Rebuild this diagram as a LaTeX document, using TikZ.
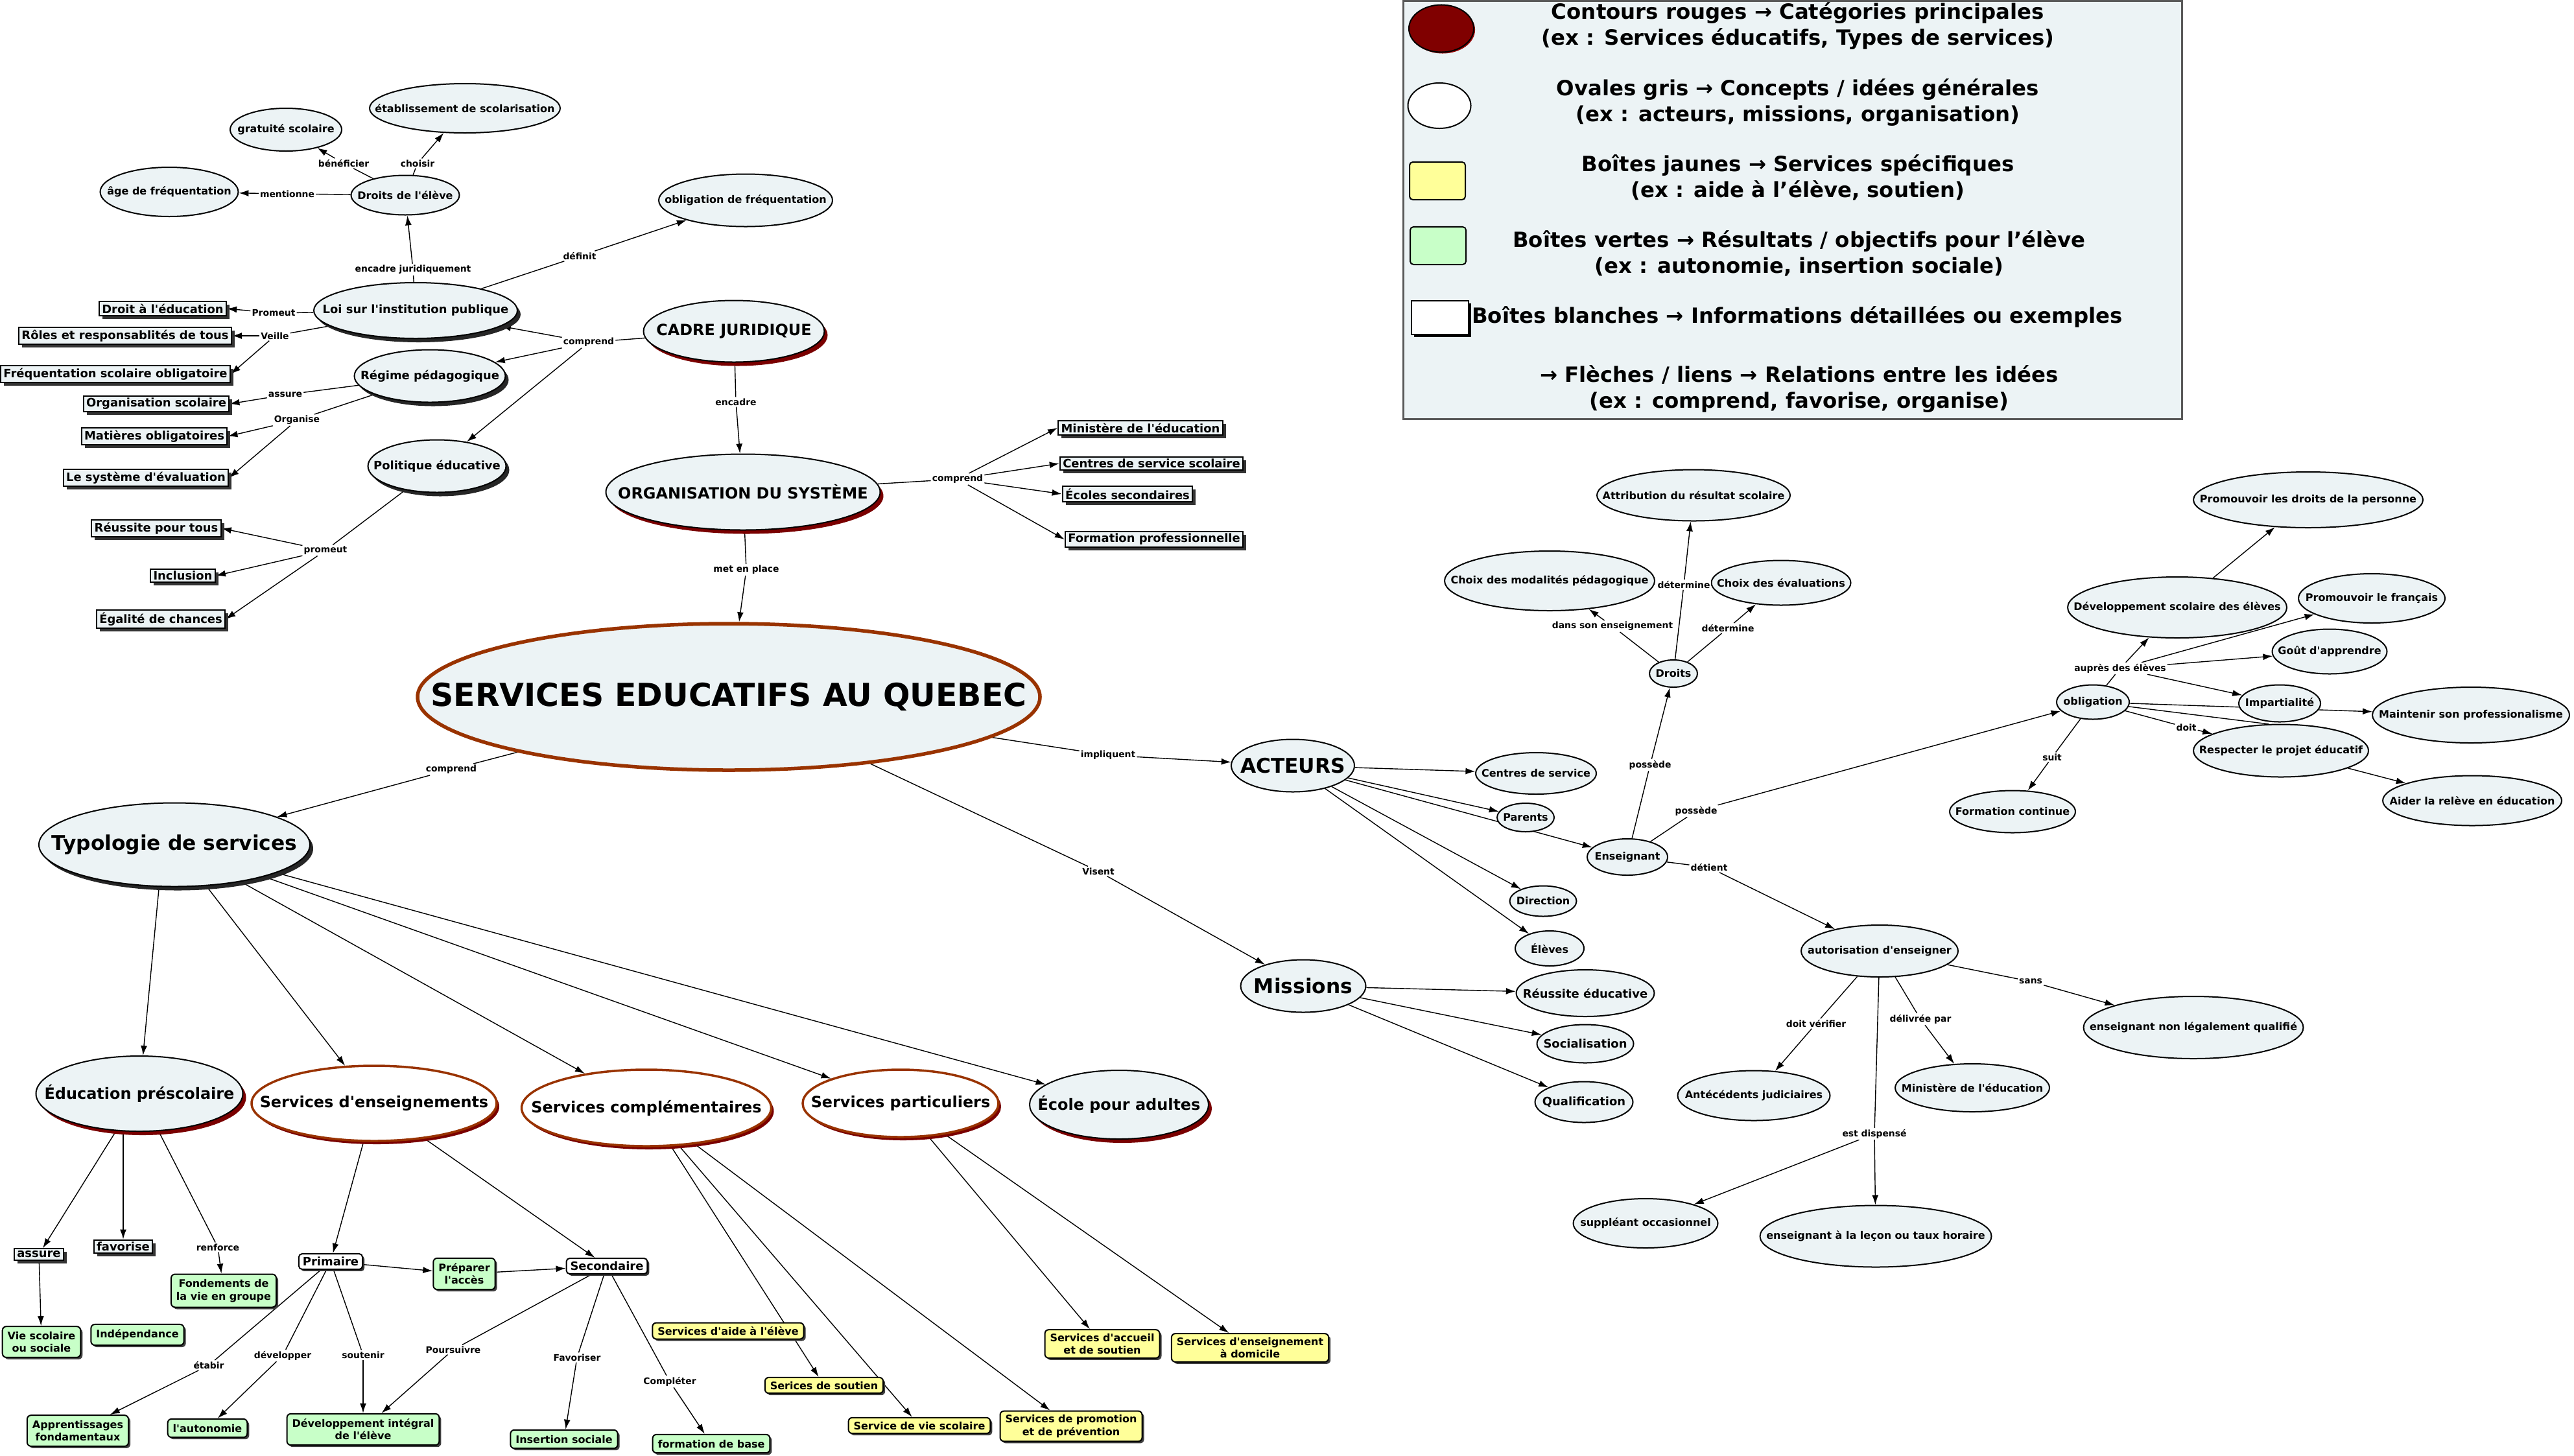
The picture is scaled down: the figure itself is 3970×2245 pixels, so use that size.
\documentclass[tikz,border=0pt]{standalone}
\usepackage{fontspec}
\setmainfont{DejaVu Sans}
\newfontfamily\dvsans{DejaVu Sans}
\usetikzlibrary{shapes.geometric,arrows.meta,shadows}
\pgfdeclarelayer{bg}
\pgfsetlayers{bg,main}
\definecolor{ovfill}{HTML}{ECF3F5}
\definecolor{brn}{HTML}{993300}
\definecolor{shred}{HTML}{7A0000}
\definecolor{grn}{HTML}{C8FFC8}
\definecolor{yel}{HTML}{FFFF99}
\definecolor{lgred}{HTML}{800000}
\newcommand\ELL[7]{%
  \node[#5, minimum width=#3*0.01cm, minimum height=#4*0.01cm] (#1) at (#2) {};
  \node[#6, align=center, inner sep=0pt] at (#1.center) {#7};}
\tikzset{
  f49/.style={font=\dvsans\fontsize{13.9}{16}\selectfont\bfseries},
  f32/.style={font=\dvsans\fontsize{8.9}{11}\selectfont\bfseries},
  f24/.style={font=\dvsans\fontsize{6.8}{8}\selectfont\bfseries},
  f18/.style={font=\dvsans\fontsize{5.1}{6.2}\selectfont\bfseries},
  f16/.style={font=\dvsans\fontsize{4.55}{5.5}\selectfont\bfseries},
  f14/.style={font=\dvsans\fontsize{3.95}{4.8}\selectfont\bfseries},
  fleg/.style={font=\dvsans\fontsize{9.2}{11.4}\selectfont\bfseries},
  ov/.style={ellipse, draw=black, line width=0.02cm, fill=ovfill, inner sep=0pt},
  ovk/.style={ov, drop shadow={shadow xshift=0.05cm, shadow yshift=-0.06cm, fill=black!85, opacity=1}},
  ovr/.style={ov, drop shadow={shadow xshift=0.05cm, shadow yshift=-0.06cm, fill=shred, opacity=1}},
  cat/.style={ellipse, draw=brn, line width=0.035cm, fill=white, inner sep=0pt, drop shadow={shadow xshift=0.04cm, shadow yshift=-0.05cm, fill=shred, opacity=1}},
  titleov/.style={ellipse, draw=brn, line width=0.055cm, fill=ovfill, inner sep=0pt},
  wbox/.style={rectangle, draw=black, line width=0.02cm, fill=ovfill, inner xsep=0.045cm, inner ysep=0.035cm, f18, drop shadow={shadow xshift=0.05cm, shadow yshift=-0.05cm, fill=black!80, opacity=1}},
  rbox/.style={rectangle, rounded corners=0.05cm, draw=black, line width=0.02cm, fill=white, inner xsep=0.06cm, inner ysep=0.05cm, f18, drop shadow={shadow xshift=0.03cm, shadow yshift=-0.03cm, fill=black!80, opacity=1}},
  gbox/.style={rectangle, rounded corners=0.06cm, draw=black, line width=0.02cm, fill=grn, inner xsep=0.08cm, inner ysep=0.08cm, f16, align=center, drop shadow={shadow xshift=0.03cm, shadow yshift=-0.03cm, fill=black!75, opacity=1}},
  ybox/.style={gbox, fill=yel, inner ysep=0.06cm},
  lbl/.style={fill=white, inner sep=0.015cm, f14},
  lnk/.style={line width=0.014cm, black},
  arw/.style={lnk, -{Latex[length=0.15cm,width=0.1cm]}},
}
\begin{document}
\begin{tikzpicture}[x=0.01cm,y=-0.01cm]
\useasboundingbox (0,0) rectangle (3970,2245);

% ---------- legend ----------
\node[draw=black!65, line width=0.025cm, fill=ovfill, anchor=north west, minimum width=1201*0.01cm, minimum height=645*0.01cm, inner sep=0pt] (legend) at (2163,0) {};
\node[ellipse, draw=black, line width=0.02cm, fill=lgred, minimum width=1cm, minimum height=0.73cm, drop shadow={shadow xshift=0.02cm, shadow yshift=-0.02cm, fill=red!60!black, opacity=1}] (lgA) at (2223,44) {};
\node[ellipse, draw=black, line width=0.02cm, fill=white, minimum width=0.97cm, minimum height=0.70cm] (lgB) at (2220,163) {};
\node[rectangle, rounded corners=0.05cm, draw=black, line width=0.02cm, fill=yel, minimum width=0.86cm, minimum height=0.58cm] (lgC) at (2217,279) {};
\node[rectangle, rounded corners=0.05cm, draw=black, line width=0.02cm, fill=grn, minimum width=0.86cm, minimum height=0.58cm] (lgD) at (2218,379) {};
\node[rectangle, draw=black, line width=0.025cm, fill=white, minimum width=0.88cm, minimum height=0.52cm, drop shadow={shadow xshift=0.04cm, shadow yshift=-0.04cm, fill=black, opacity=1}] (lgE) at (2221,490) {};
\node[fleg, align=center] (lgtA) at (2773,40) {Contours rouges → Catégories principales\\(ex : Services éducatifs, Types de services)};
\node[fleg, align=center] (lgtB) at (2773,158) {Ovales gris → Concepts / idées générales\\(ex : acteurs, missions, organisation)};
\node[fleg, align=center] (lgtC) at (2773,274) {Boîtes jaunes → Services spécifiques\\(ex : aide à l’élève, soutien)};
\node[fleg, align=center] (lgtD) at (2775,391) {Boîtes vertes → Résultats / objectifs pour l’élève\\(ex : autonomie, insertion sociale)};
\node[fleg] (lgtE) at (2772,489) {Boîtes blanches → Informations détaillées ou exemples};
\node[fleg, align=center] (lgtF) at (2775,600) {→ Flèches / liens → Relations entre les idées\\(ex : comprend, favorise, organise)};

% ---------- top-left ----------
\ELL{gratuite}{441,200}{172}{66}{ov}{f16}{gratuité scolaire}
\ELL{etab}{717,167}{294}{76}{ov}{f16}{établissement de scolarisation}
\ELL{age}{261,296}{213}{76}{ov}{f16}{âge de fréquentation}
\ELL{droitseleve}{625,301}{167}{61}{ov}{f16}{Droits de l'élève}
\ELL{oblfreq}{1150,309}{268}{81}{ov}{f16}{obligation de fréquentation}
\ELL{loi}{641,479}{314}{86}{ovk}{f18}{Loi sur l'institution publique}
\ELL{cadre}{1132,511}{279}{95}{ovr}{f24}{CADRE JURIDIQUE}
\ELL{regime}{663,580}{233}{81}{ovk}{f18}{Régime pédagogique}
\ELL{politique}{674,719}{213}{81}{ovk}{f18}{Politique éducative}
\ELL{org}{1146,759}{423}{117}{ovr}{f24}{ORGANISATION DU SYSTÈME}

\node[wbox] (droitedu) at (251,476) {Droit à l'éducation};
\node[wbox] (roles) at (193,518) {Rôles et responsablités de tous};
\node[wbox] (freq) at (178,577) {Fréquentation scolaire obligatoire};
\node[wbox] (orgsco) at (241,623) {Organisation scolaire};
\node[wbox] (matieres) at (238,673) {Matières obligatoires};
\node[wbox] (syseval) at (225,737) {Le système d'évaluation};
\node[wbox] (reussite) at (241,815) {Réussite pour tous};
\node[wbox] (inclusion) at (282,888) {Inclusion};
\node[wbox] (egalite) at (248,955) {Égalité de chances};

\node[wbox] (ministere1) at (1759,660) {Ministère de l'éducation};
\node[wbox] (centres1) at (1776,715) {Centres de service scolaire};
\node[wbox] (ecoles) at (1739,762) {Écoles secondaires};
\node[wbox] (formpro) at (1780,832) {Formation professionnelle};

\node[lbl] (l_benef) at (530,252) {bénéficier};
\node[lbl] (l_choisir) at (644,252) {choisir};
\node[lbl] (l_mention) at (443,299) {mentionne};
\node[lbl] (l_encjur) at (637,416) {encadre juridiquement};
\node[lbl] (l_definit) at (894,395) {définit};
\node[lbl] (l_promeut1) at (422,483) {Promeut};
\node[lbl] (l_veille) at (424,518) {Veille};
\node[lbl] (l_comp1) at (908,528) {comprend};
\node[lbl] (l_assure) at (440,609) {assure};
\node[lbl] (l_organise) at (458,648) {Organise};
\node[lbl] (l_promeut2) at (502,849) {promeut};
\node[lbl] (l_encadre) at (1135,620) {encadre};
\node[lbl] (l_metplace) at (1151,879) {met en place};
\node[lbl] (l_comp2) at (1477,739) {comprend};

% ---------- centre ----------
\ELL{services}{1124,1075}{960}{226}{titleov}{f49}{SERVICES EDUCATIFS AU QUEBEC}
\ELL{typologie}{269,1303}{418}{129}{ovk}{f32}{Typologie de services}
\ELL{acteurs}{1994,1181}{190}{81}{ov}{f32}{ACTEURS}
\ELL{missions}{2010,1521}{193}{81}{ov}{f32}{Missions}
\node[lbl] (l_comp3) at (696,1187) {comprend};
\node[lbl] (l_impl) at (1709,1165) {impliquent};
\node[lbl] (l_visent) at (1694,1344) {Visent};

\ELL{edupre}{215,1687}{319}{116}{ovr}{f24}{Éducation préscolaire}
\ELL{servens}{577,1702}{378}{116}{cat}{f24}{Services d'enseignements}
\ELL{servcomp}{997,1709}{385}{118}{cat}{f24}{Services complémentaires}
\ELL{servpart}{1389,1702}{302}{104}{cat}{f24}{Services particuliers}
\ELL{ecoleadultes}{1726,1704}{276}{106}{ovr}{f24}{École pour adultes}

% ---------- bottom-left ----------
\node[wbox] (assureb) at (60,1935) {assure};
\node[wbox] (favoriseb) at (190,1923) {favorise};
\node[lbl] (l_renforce) at (336,1924) {renforce};
\node[gbox] (fondements) at (345,1991) {Fondements de\\la vie en groupe};
\node[gbox] (viescol) at (64,2070) {Vie scolaire\\ou sociale};
\node[gbox] (independance) at (212,2059) {Indépendance};
\node[rbox] (primaire) at (510,1946) {Primaire};
\node[gbox] (preparer) at (716,1965) {Préparer\\l'accès};
\node[rbox] (secondaire) at (936,1953) {Secondaire};
\node[gbox] (apprentissages) at (120,2207) {Apprentissages\\fondamentaux};
\node[gbox] (autonomie) at (320,2203) {l'autonomie};
\node[gbox] (devintegral) at (560,2205) {Développement intégral\\de l'élève};
\node[gbox] (insertion) at (870,2220) {Insertion sociale};
\node[gbox] (formbase) at (1097,2227) {formation de base};
\node[lbl] (l_etabir) at (322,2106) {étabir};
\node[lbl] (l_developper) at (436,2091) {développer};
\node[lbl] (l_soutenir) at (560,2090) {soutenir};
\node[lbl] (l_poursuivre) at (699,2082) {Poursuivre};
\node[lbl] (l_favoriser) at (890,2094) {Favoriser};
\node[lbl] (l_completer) at (1033,2131) {Compléter};

\node[ybox] (aide) at (1123,2053) {Services d'aide à l'élève};
\node[ybox] (soutien) at (1271,2137) {Serices de soutien};
\node[ybox] (viescolaire) at (1418,2199) {Service de vie scolaire};
\node[ybox] (promotion) at (1652,2200) {Services de promotion\\et de prévention};
\node[ybox] (accueil) at (1700,2073) {Services d'accueil\\et de soutien};
\node[ybox] (domicile) at (1928,2079) {Services d'enseignement\\à domicile};

% ---------- right ----------
\ELL{centresserv}{2369,1193}{186}{64}{ov}{f16}{Centres de service}
\ELL{parents}{2353,1261}{88}{44}{ov}{f16}{Parents}
\ELL{enseignant}{2510,1322}{124}{56}{ov}{f16}{Enseignant}
\ELL{direction}{2380,1390}{103}{47}{ov}{f16}{Direction}
\ELL{eleves}{2390,1463}{106}{54}{ov}{f16}{Élèves}
\ELL{reussiteedu}{2445,1532}{213}{72}{ov}{f18}{Réussite éducative}
\ELL{socialisation}{2445,1610}{149}{59}{ov}{f18}{Socialisation}
\ELL{qualification}{2443,1700}{151}{63}{ov}{f18}{Qualification}

\ELL{droits}{2581,1039}{74}{42}{ov}{f16}{Droits}
\ELL{attribution}{2612,764}{298}{79}{ov}{f16}{Attribution du résultat scolaire}
\ELL{choixmod}{2390,896}{324}{92}{ov}{f16}{Choix des modalités pédagogique}
\ELL{choixeval}{2747,899}{215}{69}{ov}{f16}{Choix des évaluations}
\node[lbl] (l_det1) at (2597,902) {détermine};
\node[lbl] (l_dse) at (2487,966) {dans son enseignement};
\node[lbl] (l_det2) at (2665,969) {détermine};
\node[lbl] (l_poss1) at (2545,1180) {possède};
\node[lbl] (l_poss2) at (2616,1251) {possède};

\ELL{obligation}{3228,1083}{112}{53}{ov}{f16}{obligation}
\ELL{devscol}{3358,937}{338}{94}{ov}{f16}{Développement scolaire des élèves}
\ELL{promdroits}{3560,771}{354}{86}{ov}{f16}{Promouvoir les droits de la personne}
\ELL{promfr}{3658,923}{226}{76}{ov}{f16}{Promouvoir le français}
\ELL{gout}{3593,1005}{177}{69}{ov}{f16}{Goût d'apprendre}
\ELL{impart}{3516,1085}{126}{57}{ov}{f16}{Impartialité}
\ELL{maintenir}{3811,1103}{304}{86}{ov}{f16}{Maintenir son professionalisme}
\ELL{respecter}{3518,1158}{270}{81}{ov}{f16}{Respecter le projet éducatif}
\ELL{aider}{3813,1235}{276}{77}{ov}{f16}{Aider la relève en éducation}
\ELL{formcont}{3104,1252}{194}{65}{ov}{f16}{Formation continue}
\node[lbl] (l_aupres) at (3270,1031) {auprès des élèves};
\node[lbl] (l_doit) at (3372,1122) {doit};
\node[lbl] (l_suit) at (3165,1168) {suit};
\node[lbl] (l_detient) at (2636,1338) {détient};

\ELL{autorisation}{2899,1467}{242}{80}{ov}{f16}{autorisation d'enseigner}
\ELL{antecedents}{2705,1690}{235}{77}{ov}{f16}{Antécédents judiciaires}
\ELL{ministere2}{3042,1678}{238}{74}{ov}{f16}{Ministère de l'éducation}
\ELL{nonqual}{3383,1585}{339}{96}{ov}{f16}{enseignant non légalement qualifié}
\ELL{suppleant}{2538,1887}{223}{76}{ov}{f16}{suppléant occasionnel}
\ELL{lecon}{2893,1907}{357}{95}{ov}{f16}{enseignant à la leçon ou taux horaire}
\node[lbl] (l_doitverif) at (2801,1579) {doit vérifier};
\node[lbl] (l_delivree) at (2962,1572) {délivrée par};
\node[lbl] (l_sans) at (3132,1514) {sans};
\node[lbl] (l_dispense) at (2891,1749) {est dispensé};

% ---------- connectors ----------
\begin{pgfonlayer}{bg}
\fill[white] (0,0) rectangle (3970,2245);
% top-left
\draw[lnk] (droitseleve) -- (l_benef); \draw[arw] (l_benef) -- (gratuite);
\draw[lnk] (droitseleve) -- (l_choisir); \draw[arw] (l_choisir) -- (etab);
\draw[lnk] (droitseleve) -- (l_mention); \draw[arw] (l_mention) -- (age);
\draw[lnk] (loi) -- (l_encjur); \draw[arw] (l_encjur) -- (droitseleve);
\draw[lnk] (loi) -- (l_definit); \draw[arw] (l_definit) -- (oblfreq);
\draw[lnk] (loi) -- (l_promeut1); \draw[arw] (l_promeut1) -- (droitedu.east);
\draw[lnk] (loi) -- (l_veille); \draw[arw] (l_veille) -- (roles.east);
\draw[arw] (l_veille) -- (freq.east);
\draw[lnk] (cadre) -- (l_comp1);
\draw[arw] (l_comp1) -- (loi); \draw[arw] (l_comp1) -- (regime); \draw[arw] (l_comp1) -- (politique);
\draw[lnk] (regime) -- (l_assure); \draw[arw] (l_assure) -- (orgsco.east);
\draw[lnk] (regime) -- (l_organise); \draw[arw] (l_organise) -- (matieres.east);
\draw[arw] (l_organise) -- (syseval.east);
\draw[lnk] (politique) -- (l_promeut2);
\draw[arw] (l_promeut2) -- (reussite.east); \draw[arw] (l_promeut2) -- (inclusion.east); \draw[arw] (l_promeut2) -- (egalite.east);
\draw[lnk] (cadre) -- (l_encadre); \draw[arw] (l_encadre) -- (org);
\draw[lnk] (org) -- (l_metplace); \draw[arw] (l_metplace) -- (services);
\draw[lnk] (org) -- (l_comp2);
\draw[arw] (l_comp2) -- (ministere1.west); \draw[arw] (l_comp2) -- (centres1.west);
\draw[arw] (l_comp2) -- (ecoles.west); \draw[arw] (l_comp2) -- (formpro.west);
% centre
\draw[lnk] (services) -- (l_comp3); \draw[arw] (l_comp3) -- (typologie);
\draw[lnk] (services) -- (l_impl); \draw[arw] (l_impl) -- (acteurs);
\draw[lnk] (services) -- (l_visent); \draw[arw] (l_visent) -- (missions);
\draw[arw] (typologie.250) -- (edupre);
\draw[arw] (typologie) -- (servens);
\draw[arw] (typologie) -- (servcomp);
\draw[arw] (typologie) -- (servpart);
\draw[arw] (typologie) -- (ecoleadultes);
% bottom-left
\draw[arw] (edupre) -- (assureb);
\draw[arw] (favoriseb.north |- edupre.south) -- (favoriseb.north);
\draw[lnk] (edupre) -- (l_renforce); \draw[arw] (l_renforce) -- (fondements);
\draw[arw] (assureb) -- (viescol);
\draw[arw] (servens) -- (primaire);
\draw[arw] (servens) -- (secondaire);
\draw[arw] (primaire) -- (preparer);
\draw[arw] (preparer) -- (secondaire);
\draw[lnk] (primaire) -- (l_etabir); \draw[arw] (l_etabir) -- (apprentissages);
\draw[lnk] (primaire) -- (l_developper); \draw[arw] (l_developper) -- (autonomie);
\draw[lnk] (primaire) -- (l_soutenir); \draw[arw] (l_soutenir) -- (devintegral);
\draw[lnk] (secondaire) -- (l_poursuivre); \draw[arw] (l_poursuivre) -- (devintegral);
\draw[lnk] (secondaire) -- (l_favoriser); \draw[arw] (l_favoriser) -- (insertion);
\draw[lnk] (secondaire) -- (l_completer); \draw[arw] (l_completer) -- (formbase);
\draw[arw] (servcomp) -- (soutien);
\draw[arw] (servcomp) -- (viescolaire);
\draw[arw] (servcomp) -- (promotion);
\draw[arw] (servpart) -- (accueil);
\draw[arw] (servpart) -- (domicile);
% right
\draw[arw] (acteurs) -- (centresserv);
\draw[arw] (acteurs) -- (parents);
\draw[arw] (acteurs) -- (enseignant);
\draw[arw] (acteurs) -- (direction);
\draw[arw] (acteurs) -- (eleves);
\draw[arw] (missions) -- (reussiteedu);
\draw[arw] (missions) -- (socialisation);
\draw[arw] (missions) -- (qualification);
\draw[lnk] (enseignant) -- (l_poss1); \draw[arw] (l_poss1) -- (droits);
\draw[lnk] (enseignant) -- (l_poss2); \draw[arw] (l_poss2) -- (obligation);
\draw[lnk] (droits) -- (l_det1); \draw[arw] (l_det1) -- (attribution);
\draw[lnk] (droits) -- (l_dse); \draw[arw] (l_dse) -- (choixmod);
\draw[lnk] (droits) -- (l_det2); \draw[arw] (l_det2) -- (choixeval);
\draw[lnk] (obligation) -- (l_aupres);
\draw[arw] (l_aupres) -- (devscol); \draw[arw] (l_aupres) -- (promfr);
\draw[arw] (l_aupres) -- (gout); \draw[arw] (l_aupres) -- (impart);
\draw[arw] (obligation) -- (maintenir);
\draw[lnk] (obligation) -- (respecter.115);
\draw[lnk] (obligation) -- (l_doit); \draw[arw] (l_doit) -- (respecter);
\draw[arw] (respecter) -- (aider);
\draw[arw] (devscol) -- (promdroits);
\draw[lnk] (obligation) -- (l_suit); \draw[arw] (l_suit) -- (formcont);
\draw[lnk] (enseignant) -- (l_detient); \draw[arw] (l_detient) -- (autorisation);
\draw[lnk] (autorisation) -- (l_doitverif); \draw[arw] (l_doitverif) -- (antecedents);
\draw[lnk] (autorisation) -- (l_delivree); \draw[arw] (l_delivree) -- (ministere2);
\draw[lnk] (autorisation) -- (l_sans); \draw[arw] (l_sans) -- (nonqual);
\draw[lnk] (autorisation) -- (l_dispense);
\draw[arw] (l_dispense) -- (lecon); \draw[arw] (l_dispense) -- (suppleant);
\end{pgfonlayer}
\end{tikzpicture}
\end{document}
